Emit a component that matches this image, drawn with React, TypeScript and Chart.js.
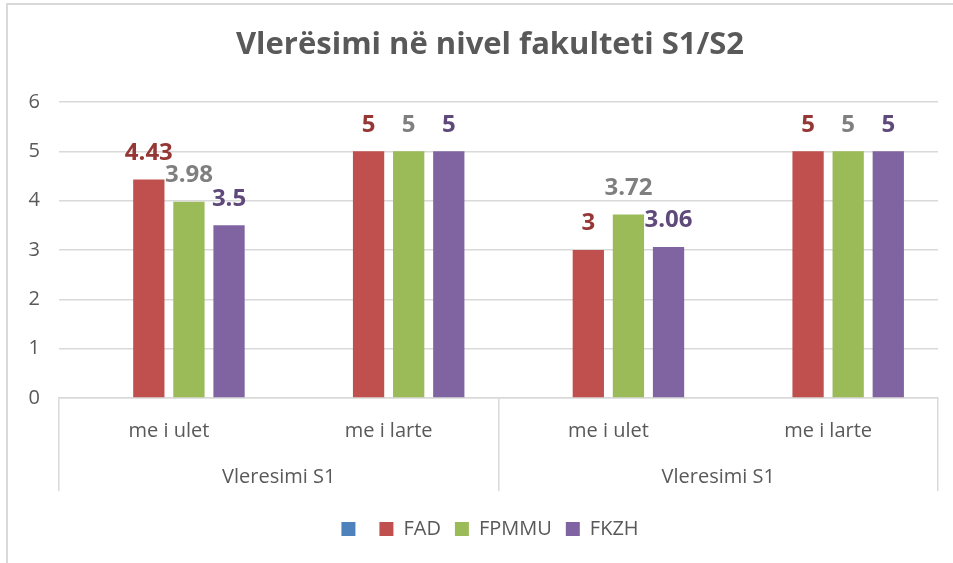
import React, { useEffect, useRef } from 'react';
import { Chart, registerables } from 'chart.js';

Chart.register(...registerables);

const titleText = 'Vlerësimi në nivel fakulteti S1/S2';
const categories = ['me i ulet', 'me i larte', 'me i ulet', 'me i larte'];
const groupLabels = ['Vleresimi S1', 'Vleresimi S1'];
const seriesNames = ['', 'FAD', 'FPMMU', 'FKZH'];
const blankValues: (number | null)[] = [null, null, null, null];
const fadValues = [4.43, 5, 3, 5];
const fpmmuValues = [3.98, 5, 3.72, 5];
const fkzhValues = [3.5, 5, 3.06, 5];
const yMin = 0;
const yMax = 6;
const yStep = 1;

const FONT = '"Open Sans", "Noto Sans", sans-serif';
const TEXT_GRAY = '#595959';
const GRID = '#d9d9d9';
const barColors = ['#4F81BD', '#C0504D', '#9BBB59', '#8064A2'];
const labelColors: (string | null)[] = [null, '#953735', '#7F7F7F', '#5F497A'];

const valueLabelPlugin = {
  id: 'valueLabels',
  afterDatasetsDraw(chart: any) {
    const ctx = chart.ctx;
    chart.data.datasets.forEach((ds: any, di: number) => {
      const color = labelColors[di];
      if (!color) return;
      const meta = chart.getDatasetMeta(di);
      meta.data.forEach((el: any, i: number) => {
        const v = ds.data[i];
        if (v === null || v === undefined) return;
        ctx.save();
        ctx.font = `bold 24px ${FONT}`;
        ctx.fillStyle = color;
        ctx.textAlign = 'center';
        ctx.textBaseline = 'middle';
        ctx.fillText(String(v), el.x, el.y - 26.5);
        ctx.restore();
      });
    });
  },
};

export default function App() {
  const canvasRef = useRef<HTMLCanvasElement | null>(null);

  useEffect(() => {
    if (!canvasRef.current) return;
    const allSeries = [blankValues, fadValues, fpmmuValues, fkzhValues];
    const chart = new Chart(canvasRef.current, {
      type: 'bar',
      data: {
        labels: categories,
        datasets: allSeries.map((vals, i) => ({
          label: seriesNames[i],
          data: vals,
          backgroundColor: barColors[i],
          borderColor: barColors[i],
          borderWidth: 0,
          categoryPercentage: 0.73,
          barPercentage: 0.78,
          xAxisID: 'x',
          yAxisID: 'y',
        })),
      },
      options: {
        responsive: false,
        animation: false,
        devicePixelRatio: 1,
        layout: { padding: 0 },
        plugins: {
          title: {
            display: true,
            text: titleText,
            color: TEXT_GRAY,
            font: { family: FONT, size: 31, weight: 'bold' },
            padding: { top: 22, bottom: 37.8 },
          },
          legend: {
            display: true,
            position: 'bottom',
            labels: {
              boxWidth: 14,
              boxHeight: 14,
              padding: 14,
              color: TEXT_GRAY,
              font: { family: FONT, size: 20 },
            },
          },
          tooltip: { enabled: false },
        },
        scales: {
          y: {
            type: 'linear',
            position: 'left',
            min: yMin,
            max: yMax,
            ticks: {
              stepSize: yStep,
              color: TEXT_GRAY,
              font: { family: FONT, size: 20 },
              padding: 19,
            },
            grid: { color: GRID, lineWidth: 1.5, drawTicks: false },
            border: { display: false },
            afterFit: (s: any) => {
              s.width = 51;
            },
          },
          yR: {
            type: 'linear',
            position: 'right',
            display: true,
            ticks: { display: false },
            grid: { display: false, drawTicks: false },
            border: { display: false },
            afterFit: (s: any) => {
              s.width = 34;
            },
          },
          x: {
            type: 'category',
            position: 'bottom',
            offset: true,
            grid: {
              display: true,
              offset: true,
              drawOnChartArea: false,
              drawTicks: true,
              tickLength: 93,
              lineWidth: 1.5,
              color: (c: any) =>
                c.index === undefined || c.index % 2 === 0 ? GRID : 'rgba(0,0,0,0)',
            },
            border: { display: true, color: GRID, width: 1.5 },
            ticks: {
              color: TEXT_GRAY,
              font: { family: FONT, size: 20 },
              padding: -72,
              maxRotation: 0,
              autoSkip: false,
            },
            afterFit: (s: any) => {
              s.height = 45;
            },
          },
          x2: {
            type: 'category',
            position: 'bottom',
            labels: groupLabels,
            offset: true,
            grid: { display: false, drawTicks: false },
            border: { display: false },
            ticks: {
              color: TEXT_GRAY,
              font: { family: FONT, size: 20 },
              padding: 22,
              maxRotation: 0,
              autoSkip: false,
            },
            afterFit: (s: any) => {
              s.height = 62;
            },
          },
        },
      } as any,
      plugins: [valueLabelPlugin],
    });
    return () => chart.destroy();
  }, []);

  return (
    <div
      style={{
        position: 'fixed',
        left: 0,
        top: 0,
        width: 953,
        height: 563,
        overflow: 'hidden',
        background: '#ffffff',
      }}
    >
      <div
        style={{
          position: 'absolute',
          left: 6,
          top: 3,
          width: 1000,
          height: 600,
          borderLeft: `2px solid ${GRID}`,
          borderTop: `2px solid ${GRID}`,
          boxSizing: 'border-box',
        }}
      >
        <canvas ref={canvasRef} width={964} height={544} style={{ display: 'block' }} />
      </div>
    </div>
  );
}
